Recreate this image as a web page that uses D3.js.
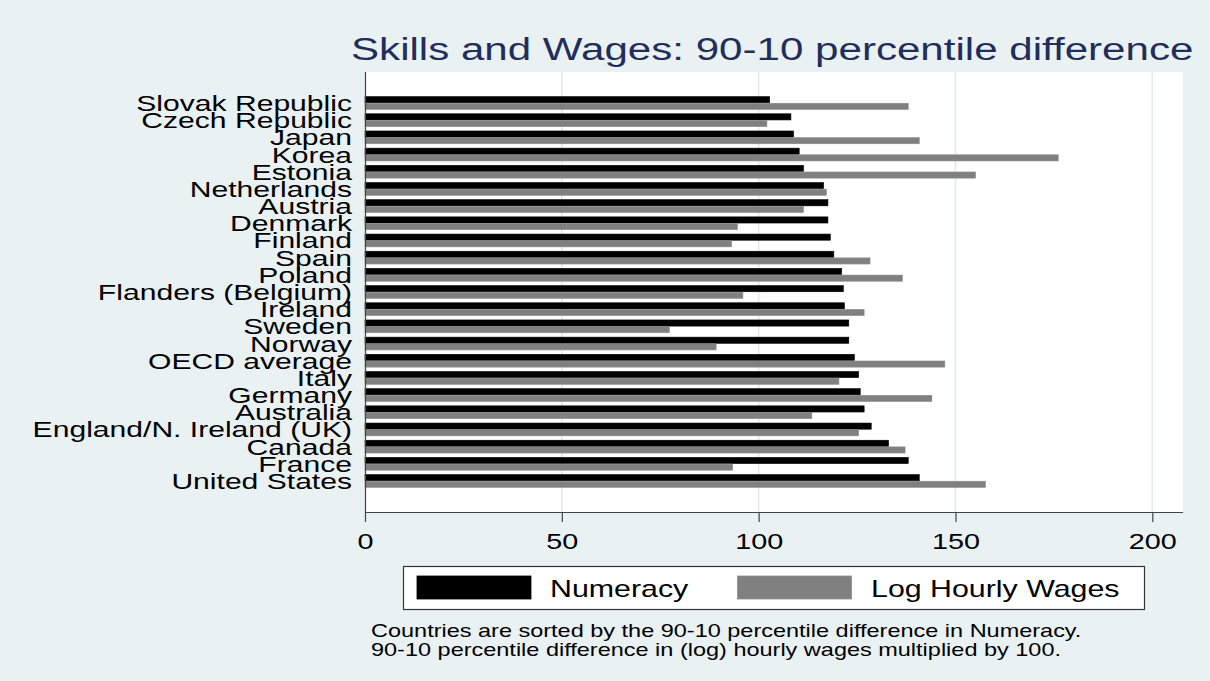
<!DOCTYPE html>
<html><head><meta charset="utf-8">
<script src="https://cdn.jsdelivr.net/npm/d3@7"></script>
<style>
html,body{margin:0;padding:0;background:#e9f1f3;}
svg{display:block;font-family:"Liberation Sans",Arial,sans-serif;}
</style></head>
<body>
<svg id="chart" width="1210" height="681"></svg>
<script>
const countries = ["Slovak Republic","Czech Republic","Japan","Korea","Estonia","Netherlands","Austria","Denmark","Finland","Spain","Poland","Flanders (Belgium)","Ireland","Sweden","Norway","OECD average","Italy","Germany","Australia","England/N. Ireland (UK)","Canada","France","United States"];
const numeracy = [102.8,108.2,108.9,110.3,111.4,116.5,117.6,117.6,118.2,119.1,121.1,121.5,121.8,122.9,122.9,124.3,125.4,125.8,126.8,128.6,133.0,138.0,140.8];
const wages = [138.0,102.1,140.8,176.1,155.1,117.2,111.4,94.6,93.1,128.3,136.5,96.0,126.8,77.3,89.2,147.3,120.4,144.0,113.5,125.4,137.2,93.4,157.6];
const seriesNames = ["Numeracy","Log Hourly Wages"];
const xTicks = [0,50,100,150,200];
const title = "Skills and Wages: 90-10 percentile difference";
const notes = ["Countries are sorted by the 90-10 percentile difference in Numeracy.","90-10 percentile difference in (log) hourly wages multiplied by 100."];

const SX = 1.32; // horizontal stretch of text
const svg = d3.select("#chart");
const L = 365, R = 1183, T = 72, B = 512;
const colors = ["#000000","#808080"];
const strokes = ["#000000","#8c8c8c"];

svg.append("rect").attr("width",1210).attr("height",681).attr("fill","#e9f1f3");
svg.append("rect").attr("x",L).attr("y",T).attr("width",R-L).attr("height",B-T).attr("fill","#ffffff");

const x = d3.scaleLinear().domain([0,207.8]).range([L,R]);
const y = d3.scaleBand().domain(countries).range([T,B]).paddingInner(0.226).paddingOuter(1.418);
const sub = d3.scaleBand().domain([0,1]).range([0,y.bandwidth()]);

// gridlines
svg.append("g").selectAll("line").data(xTicks.filter(d=>d>0)).join("line")
  .attr("x1",d=>x(d)).attr("x2",d=>x(d)).attr("y1",T).attr("y2",B)
  .attr("stroke","#e1ebee").attr("stroke-width",1.6);

// bars
const data = countries.map((c,i)=>({c, v:[numeracy[i], wages[i]]}));
const g = svg.append("g");
data.forEach(d=>{
  d.v.forEach((v,k)=>{
    g.append("rect")
      .attr("x",x(0)).attr("y",y(d.c)+sub(k)+0.25)
      .attr("width",x(v)-x(0)).attr("height",sub.bandwidth()-0.5)
      .attr("fill",colors[k]).attr("stroke",strokes[k]).attr("stroke-width",0.6);
  });
});

// axes
const xAxis = d3.axisBottom(x).tickValues(xTicks).tickSize(10).tickPadding(0).tickFormat(d3.format("d"));
const ax = svg.append("g").attr("transform",`translate(0,${B})`).call(xAxis);
ax.select(".domain").attr("d",`M${L},0.5H${R}`).attr("stroke","#444").attr("stroke-width",1.2);
ax.selectAll(".tick line").attr("stroke","#444").attr("stroke-width",1.2);
ax.selectAll(".tick text").remove();
ax.selectAll(".tick").append("text")
  .attr("transform",`translate(0,37) scale(${SX},1)`)
  .attr("text-anchor","middle").attr("fill","#000").attr("font-size",21.8)
  .attr("font-family","Liberation Sans, Arial, sans-serif")
  .text(d=>d);

svg.append("line").attr("x1",L+0.5).attr("x2",L+0.5).attr("y1",T).attr("y2",B)
  .attr("stroke","#444").attr("stroke-width",1.2);

// category labels
svg.append("g").selectAll("text").data(countries).join("text")
  .attr("transform",d=>`translate(352,${y(d)+y.bandwidth()/2+8}) scale(${SX},1)`)
  .attr("text-anchor","end").attr("font-size",22.8).attr("fill","#000")
  .text(d=>d);

// title
svg.append("text").attr("transform",`translate(351,60) scale(${SX},1)`)
  .attr("font-size",31.9).attr("fill","#222d5c").text(title);

// legend
const lg = svg.append("g");
lg.append("rect").attr("x",403.5).attr("y",566.5).attr("width",741).attr("height",43)
  .attr("fill","#fff").attr("stroke","#333").attr("stroke-width",1.2);
const keyX = [417,737.5], txtX = [550,871];
seriesNames.forEach((s,k)=>{
  lg.append("rect").attr("x",keyX[k]).attr("y",576).attr("width",114).attr("height",23)
    .attr("fill",colors[k]).attr("stroke",strokes[k]).attr("stroke-width",0.8);
  lg.append("text").attr("transform",`translate(${txtX[k]},597) scale(${SX},1)`)
    .attr("font-size",23).attr("fill","#000").text(s);
});

// notes
notes.forEach((n,i)=>{
  svg.append("text").attr("transform",`translate(371,${637+i*18.5}) scale(${SX},1)`)
    .attr("font-size",17.8).attr("fill","#000").text(n);
});
</script>
</body></html>
